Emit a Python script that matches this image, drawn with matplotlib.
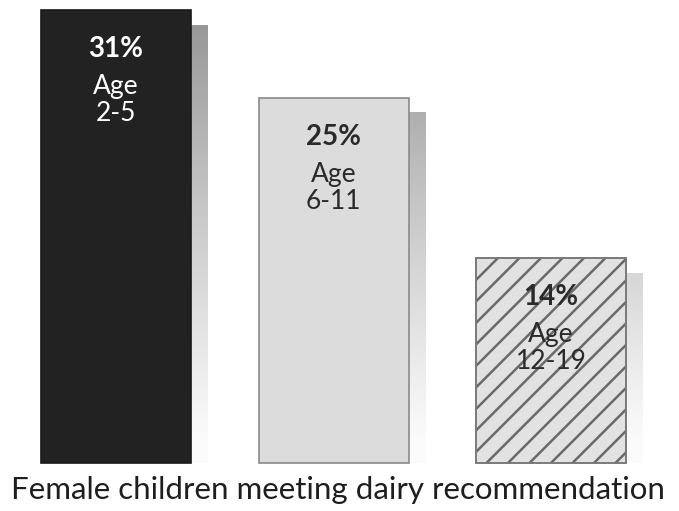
import numpy as np
import matplotlib
matplotlib.use("Agg")
import matplotlib.pyplot as plt
from matplotlib.lines import Line2D

# Share of female children meeting the dairy recommendation, by age group
age_groups = ["2-5", "6-11", "12-19"]
percent = [31, 25, 14]
face_colors = ["#222222", "#dcdcdc", "#e2e2e2"]
edge_colors = ["#1a1a1a", "#8a8a8a", "#7a7a7a"]
text_colors = ["#ffffff", "#2a2a2a", "#2a2a2a"]
title = "Female children meeting dairy recommendation"

plt.rcParams["font.family"] = ["Lato", "DejaVu Sans"]

W, H = 679, 511
fig = plt.figure(figsize=(W / 100, H / 100), dpi=100)
ax = fig.add_axes([0, 0, 1, 1])

px_x = 217.5   # pixels per category step
px_y = 14.61   # pixels per percentage point
x0_px = 116    # centre of first bar
base_px = 48   # baseline height above the bottom edge
ax.set_xlim(-x0_px / px_x, (W - x0_px) / px_x)
ax.set_ylim(-base_px / px_y, (H - base_px) / px_y)
ax.axis("off")

bar_w = 150 / px_x
sh_w = 17 / px_x
sh_drop = 15 / px_y

x = np.arange(len(percent))

# drop shadow on the right of each bar; its grey lightens towards the baseline
for i, v in enumerate(percent):
    right = x[i] + bar_w / 2
    top = v - sh_drop
    yy = np.linspace(top, 0, 128)
    g = np.clip(1 - 0.40 * (yy / 30.0) ** 1.1, 0, 1)
    g = np.minimum(g, 0.985)
    img = np.repeat(g[:, None, None], 3, axis=2)
    ax.imshow(img, extent=(right, right + sh_w, 0, top),
              origin="upper", aspect="auto", interpolation="bilinear", zorder=1)

bars = ax.bar(x, percent, width=bar_w, color=face_colors,
              edgecolor=edge_colors, linewidth=1.2, zorder=2)

# diagonal hatching on the oldest group
hb = bars[2]
bx = hb.get_x()
bw, bh = hb.get_width(), hb.get_height()
step = 21.5 / px_x
slope = px_x / px_y  # 45 degrees on screen
span = bh / slope
for k in np.arange(-span - step, bw + step, step):
    ln = Line2D([bx + k, bx + k + span], [0, bh], color="#6a6a6a",
                linewidth=1.8, zorder=3)
    ax.add_line(ln)
    ln.set_clip_path(hb)
ax.bar(x[2], percent[2], width=bar_w, color="none",
       edgecolor=edge_colors[2], linewidth=1.2, zorder=4)

for i, v in enumerate(percent):
    top = v
    ax.text(x[i], top - 47 / px_y, f"{v}%", ha="center", va="baseline",
            fontsize=20, fontweight="bold", color=text_colors[i], zorder=5)
    ax.text(x[i], top - 84 / px_y, "Age", ha="center", va="baseline",
            fontsize=19, color=text_colors[i], zorder=5)
    ax.text(x[i], top - 111 / px_y, age_groups[i], ha="center", va="baseline",
            fontsize=19, color=text_colors[i], zorder=5)

fig.text(338 / W, 1 - 490 / H, title, ha="center", va="center",
         fontsize=22.5, color="#1e1e1e")

fig.savefig("out.png", dpi=100, facecolor="white")
